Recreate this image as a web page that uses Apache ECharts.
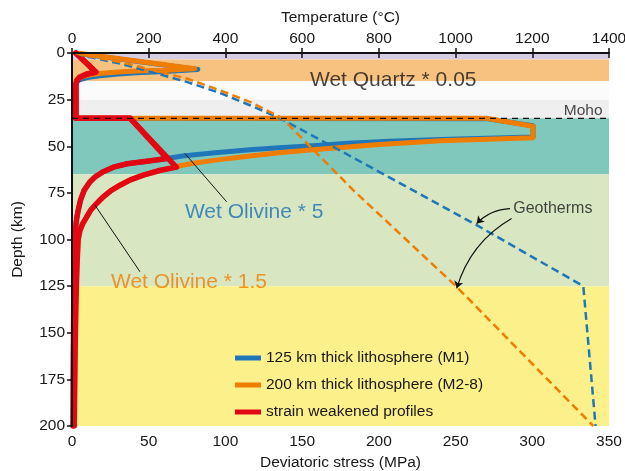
<!DOCTYPE html>
<html>
<head>
<meta charset="utf-8">
<script src="https://cdn.jsdelivr.net/npm/echarts@6/dist/echarts.min.js"></script>
<style>
  html, body { margin: 0; padding: 0; background: #fff; }
  #chart { width: 625px; height: 471px; }
</style>
</head>
<body>
<div id="chart"></div>
<script>
// ---- Axes ------------------------------------------------------------
const stressTicks = [0, 50, 100, 150, 200, 250, 300, 350];              // MPa
const temperatureTicks = [0, 200, 400, 600, 800, 1000, 1200, 1400];     // °C
const depthTicks = [0, 25, 50, 75, 100, 125, 150, 175, 200];            // km

// ---- Rheological layers: [top km, bottom km] -------------------------
const layerDepths = [[0, 3.5], [3.5, 15], [15, 25], [25, 35], [35, 65], [65, 125], [125, 200]];
const layerColors = ['#d5cde2', '#f7c27f', '#fbfbfb', '#efefef', '#80c8bb', '#d8e7c2', '#fcf08a'];

const mohoDepth = 35;

// ---- Strength envelopes: [deviatoric stress MPa, depth km] -----------
const strengthM1 = [
  [3, 0.2], [82, 8.8], [60, 9.9], [42, 10.6], [30, 11.2], [18, 12.2], [10, 13.2], [5.5, 14.2],
  [3, 15.5], [2.5, 17], [2.5, 35], [270, 35.2], [300.5, 39], [300.5, 45],
  [270, 45.7], [240, 46.4], [207, 47.3], [180, 48.4], [157, 49.7], [135, 50.8], [116, 51.9],
  [95, 53.3], [80, 54.5], [72, 55.2], [62, 56.6], [50, 57.9], [36, 59.4], [27, 61.2],
  [20, 63.8], [15, 66.5], [11.5, 69.3], [8, 73.5], [5.5, 79], [4, 84.5], [3, 89],
  [2.2, 95], [1.6, 110], [1.2, 130], [0.9, 160], [0.7, 200]
];
const strengthM2 = [
  [3, 0], [80, 8.4], [60, 9.2], [42, 9.7], [30, 10.2], [18, 11], [10, 11.9], [5.5, 13],
  [3, 14.5], [2.5, 16], [2.5, 35], [270, 35], [300.5, 39.3], [300.5, 45.5],
  [270, 46.3], [240, 47.1], [200, 49], [157, 51.9], [135, 53.5], [116, 55.2], [95, 57.3],
  [80, 59], [72, 60.2], [68, 61], [57, 63], [46.5, 65.5], [38, 68], [31.3, 70.9], [25, 74],
  [20.4, 77.1], [15, 81.6], [12, 84.5], [9.6, 87.9], [7, 91.5], [5.2, 95.1], [4, 100],
  [3.2, 115], [2.6, 132], [2, 160], [1.5, 195], [1.4, 200]
];
const weakenedM1 = [
  [2.5, 0], [15.5, 10.2], [9, 11.5], [5, 13], [3, 15], [2.5, 17], [2.5, 35], [38, 35],
  [62, 56.6], [50, 57.9], [36, 59.4], [27, 61.2], [20, 63.8], [15, 66.5], [11.5, 69.3],
  [8, 73.5], [5.5, 79], [4, 84.5], [3, 89], [2.2, 95], [1.6, 110], [1.2, 130], [0.9, 160], [0.7, 200]
];
const weakenedM2 = [
  [2.5, 0], [15.5, 10.2], [9, 11.5], [5, 13], [3, 15], [2.5, 17], [2.5, 35], [38, 35],
  [68, 61.2], [57, 63], [46.5, 65.5], [38, 68], [31.3, 70.9], [25, 74], [20.4, 77.1],
  [15, 81.6], [12, 84.5], [9.6, 87.9], [7, 91.5], [5.2, 95.1], [4, 100], [3.2, 115],
  [2.6, 132], [2, 160], [1.5, 195], [1.4, 200]
];

// ---- Geotherms: [temperature °C, depth km] ---------------------------
const geothermM1 = [
  [10, 0], [30, 1.5], [125, 5.7], [221, 11], [299, 15.5], [386, 21.4], [464, 28], [525, 33.4],
  [545, 35.3], [681, 50.3], [881, 72.7], [1055, 92.3], [1333, 125], [1365, 200]
];
const geothermM2 = [
  [10, 0], [29, 1.2], [125, 4.8], [221, 9.6], [299, 13.7], [386, 20], [464, 26.2], [525, 32.5],
  [548, 35], [733, 73.5], [1003, 125.4], [1359, 200]
];

// ---- Names -----------------------------------------------------------
const seriesNames = ['125 km thick lithosphere (M1)', '200 km thick lithosphere (M2-8)', 'strain weakened profiles'];
const colors = { m1: '#1f77b9', m2: '#ef7d00', weak: '#e30613', ink: '#1a1718' };
const FONT = '"Liberation Sans", Arial, Helvetica, sans-serif';

// ---- Annotations (stress MPa, depth km) ------------------------------
const annotations = [
  { text: 'Wet Quartz * 0.05', at: [155.1, 14.8], size: 21, color: colors.ink, side: 'right' },
  { text: 'Moho', at: [345.8, 31.1], size: 15.5, color: colors.ink, side: 'left' },
  { text: 'Wet Olivine * 5', at: [73.6, 85.6], size: 21, color: '#1b70b5', side: 'right' },
  { text: 'Wet Olivine * 1.5', at: [25.4, 122.7], size: 21, color: colors.m2, side: 'right' },
  { text: 'Geotherms', at: [287.6, 83.4], size: 16, color: colors.ink, side: 'right' }
];
const leaderM1 = [[73.6, 53.9], [100.8, 79.8]];
const leaderM2 = [[15.0, 81.6], [44.3, 117.3]];
// Geotherm pointers in (temperature °C, depth km)
const geothermPointers = [
  { coords: [[1142, 83.4], [1055, 91.4]], curve: -0.2 },
  { coords: [[1146, 88.7], [1003, 126.2]], curve: -0.2 }
];

const chart = echarts.init(document.getElementById('chart'), null, { renderer: 'canvas' });

function axisCommon(ticks, margin) {
  return {
    type: 'value',
    min: ticks[0],
    max: ticks[ticks.length - 1],
    interval: ticks[1] - ticks[0],
    z: 10,
    splitLine: { show: false },
    axisLine: { show: true, lineStyle: { color: '#111', width: 2 } },
    axisTick: { show: true, inside: false, length: 5, lineStyle: { color: '#111', width: 1.5 } },
    axisLabel: {
      fontSize: 15.5, color: colors.ink, fontFamily: FONT, margin: margin,
      formatter: v => String(v)
    },
    nameTextStyle: { fontSize: 15.5, color: colors.ink, fontFamily: FONT },
    nameLocation: 'middle'
  };
}

function strengthSeries(name, data, color, width, z) {
  return {
    name: name,
    type: 'line',
    xAxisIndex: 0,
    yAxisIndex: 0,
    data: data,
    showSymbol: false,
    symbol: 'none',
    z: z,
    color: color,
    itemStyle: { color: color },
    lineStyle: { color: color, width: width, join: 'round', cap: 'round' },
    silent: true
  };
}

function geothermSeries(name, data, color) {
  return {
    name: name,
    type: 'line',
    xAxisIndex: 1,
    yAxisIndex: 0,
    data: data,
    showSymbol: false,
    symbol: 'none',
    z: 6,
    lineStyle: { color: color, width: 2.5, type: [8, 4.5] },
    silent: true
  };
}

function leaderSeries(name, data) {
  return {
    name: name,
    type: 'line',
    xAxisIndex: 0,
    yAxisIndex: 0,
    data: data,
    showSymbol: false,
    symbol: 'none',
    z: 7,
    lineStyle: { color: '#111', width: 1 },
    silent: true
  };
}

const option = {
  animation: false,
  backgroundColor: '#ffffff',
  textStyle: { fontFamily: FONT },
  grid: { left: 72, right: 16, top: 53, bottom: 45, containLabel: false, outerBoundsMode: 'none' },
  legend: {
    data: seriesNames,
    orient: 'vertical',
    left: 230,
    top: 345,
    icon: 'rect',
    itemWidth: 26,
    itemHeight: 5,
    itemGap: 11,
    selectedMode: false,
    textStyle: { fontSize: 15.5, color: colors.ink, fontFamily: FONT, lineHeight: 16 }
  },
  xAxis: [
    Object.assign(axisCommon(stressTicks, 8), {
      position: 'bottom',
      name: 'Deviatoric stress (MPa)',
      nameGap: 27
    }),
    Object.assign(axisCommon(temperatureTicks, 6), {
      position: 'top',
      name: 'Temperature (°C)',
      nameGap: 25
    })
  ],
  yAxis: [
    Object.assign(axisCommon(depthTicks, 7), {
      position: 'left',
      inverse: true,
      name: 'Depth (km)',
      nameGap: 46,
      nameRotate: 90
    }),
    Object.assign(axisCommon(depthTicks, 7), {
      position: 'right',
      inverse: true,
      axisTick: { show: false },
      axisLabel: { show: false }
    })
  ],
  series: [
    {
      name: 'layers',
      type: 'custom',
      xAxisIndex: 0,
      yAxisIndex: 0,
      z: 0,
      silent: true,
      data: layerDepths.map((d, i) => [d[0], d[1], i]),
      renderItem: function (params, api) {
        const top = api.coord([stressTicks[0], api.value(0)]);
        const bottom = api.coord([stressTicks[stressTicks.length - 1], api.value(1)]);
        return {
          type: 'rect',
          shape: { x: top[0], y: top[1], width: bottom[0] - top[0], height: bottom[1] - top[1] },
          style: { fill: layerColors[api.value(2)] }
        };
      }
    },
    strengthSeries(seriesNames[0], strengthM1, colors.m1, 5, 2),
    strengthSeries(seriesNames[1], strengthM2, colors.m2, 5, 3),
    strengthSeries(seriesNames[2], weakenedM1, colors.weak, 5.5, 4),
    strengthSeries(seriesNames[2], weakenedM2, colors.weak, 5.5, 4),
    geothermSeries('Geotherm M1', geothermM1, colors.m1),
    geothermSeries('Geotherm M2-8', geothermM2, colors.m2),
    {
      name: 'Moho',
      type: 'line',
      xAxisIndex: 0,
      yAxisIndex: 0,
      data: [[stressTicks[0], mohoDepth], [stressTicks[stressTicks.length - 1], mohoDepth]],
      showSymbol: false,
      symbol: 'none',
      z: 7,
      lineStyle: { color: '#111', width: 1.2, type: [6, 5] },
      silent: true
    },
    leaderSeries('leader M1', leaderM1),
    leaderSeries('leader M2', leaderM2),
    {
      name: 'geotherm pointers',
      type: 'lines',
      coordinateSystem: 'cartesian2d',
      xAxisIndex: 1,
      yAxisIndex: 0,
      z: 7,
      silent: true,
      symbol: ['none', 'arrow'],
      symbolSize: 7,
      data: geothermPointers.map(p => ({ coords: p.coords, lineStyle: { curveness: p.curve } })),
      lineStyle: { color: '#111', width: 1.2, opacity: 1 }
    },
    {
      name: 'annotations',
      type: 'scatter',
      xAxisIndex: 0,
      yAxisIndex: 0,
      z: 8,
      silent: true,
      symbolSize: 0,
      data: annotations.map(a => ({
        name: a.text,
        value: a.at,
        label: {
          show: true,
          position: a.side,
          distance: 0,
          formatter: '{b}',
          fontSize: a.size,
          color: a.color,
          fontFamily: FONT
        }
      }))
    }
  ]
};

chart.setOption(option);
</script>
</body>
</html>
